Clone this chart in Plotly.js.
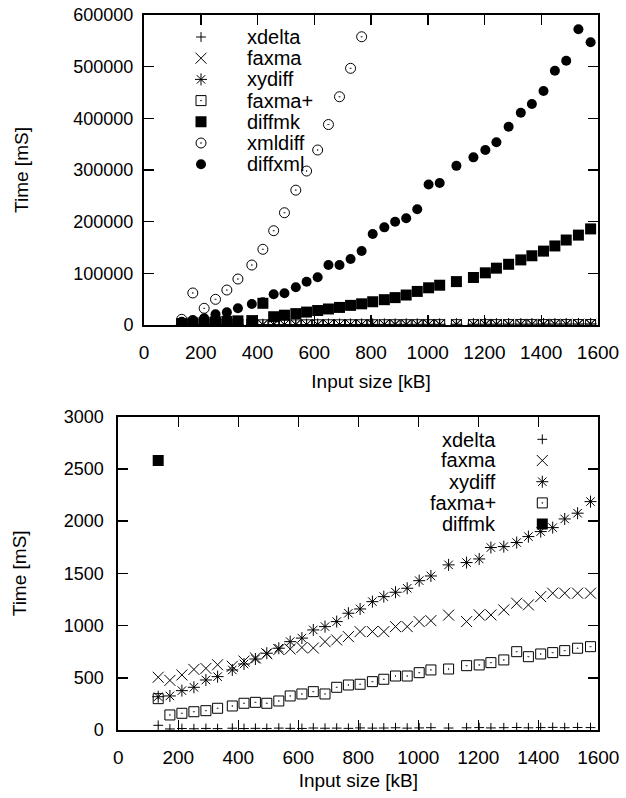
<!DOCTYPE html>
<html>
<head>
<meta charset="utf-8">
<script src="https://cdn.plot.ly/plotly-3.0.1.min.js"></script>
<style>
html, body { margin: 0; padding: 0; background: #fff; }
#chart { width: 626px; height: 798px; }
</style>
</head>
<body>
<div id="chart"></div>
<script>
// Input sizes [kB]
const inputSize = [133, 172, 212, 252, 292, 331, 380, 419, 457, 495, 535, 573, 612, 650, 689, 728, 767, 806,
  847, 885, 924, 963, 1003, 1042, 1101, 1161, 1203, 1242, 1285, 1328, 1367, 1408, 1448, 1488, 1531, 1574];
// xmldiff only measured up to ~770 kB
const inputSizeXmldiff = [133, 172, 212, 252, 292, 331, 380, 419, 457, 495, 535, 573, 612, 650, 689, 728, 767];

// Times [mS]
const xdelta = [45, 10, 14, 12, 15, 13, 17, 14, 16, 15, 18, 16, 15, 19, 17, 18, 16, 20,
  18, 19, 21, 18, 20, 22, 19, 21, 23, 20, 22, 24, 21, 23, 25, 22, 24, 23];
const faxma = [505, 475, 527, 580, 590, 625, 610, 660, 690, 730, 770, 775, 790, 785, 846, 862, 894, 942,
  942, 942, 990, 990, 1038, 1047, 1100, 1038, 1102, 1102, 1150, 1214, 1198, 1277, 1310, 1310, 1310, 1310];
const xydiff = [319, 326, 377, 409, 479, 511, 575, 632, 680, 735, 783, 846, 880, 958, 990, 1038, 1118, 1159,
  1229, 1277, 1319, 1357, 1430, 1475, 1581, 1603, 1638, 1747, 1756, 1795, 1852, 1900, 1938, 2021, 2076, 2187];
const faxmaPlus = [300, 144, 160, 175, 185, 208, 230, 256, 265, 256, 278, 326, 345, 367, 345, 409, 431, 438,
  463, 486, 517, 517, 549, 575, 584, 616, 623, 645, 671, 750, 702, 728, 741, 760, 783, 798];
const diffmk = [2580, 4000, 5000, 6000, 7000, 8000, 8500, 42000, 16000, 19000, 22000, 25000, 28000, 31000, 34000, 38000, 41000, 45000,
  49000, 53000, 58000, 65000, 72000, 77000, 84000, 92000, 101000, 110000, 117500, 126000, 134000, 143000, 153000, 164500, 174000, 186000];
const xmldiff = [11000, 62000, 32300, 49700, 67700, 89000, 116100, 146500, 182500, 217300, 261000, 298000, 338700, 388000, 441800, 496800, 557900];
const diffxml = [6400, 9700, 13000, 20700, 24500, 32300, 40600, 44000, 59400, 61300, 73000, 83800, 92300, 116100, 116100, 127700, 143200, 176000,
  189000, 200000, 206500, 224000, 272000, 275000, 308000, 324500, 338700, 353600, 383800, 410900, 427700, 452900, 492200, 511500, 572300, 547100];

const topNames = ['xdelta', 'faxma', 'xydiff', 'faxma+', 'diffmk', 'xmldiff', 'diffxml'];
const bottomNames = ['xdelta', 'faxma', 'xydiff', 'faxma+', 'diffmk'];
const xTicks = [0, 200, 400, 600, 800, 1000, 1200, 1400, 1600];

const W = 626, H = 798;
const FONT = 'Liberation Sans, Arial, Helvetica, sans-serif';
const K = '#000';

const styles = {
  'xdelta': {symbol: 'cross-thin-open', size: 7, line: {color: K, width: 1}},
  'faxma': {symbol: 'x-thin-open', size: 11, line: {color: K, width: 1}},
  'xydiff': {symbol: 'asterisk-open', size: 10, line: {color: K, width: 1}},
  'faxma+': {symbol: 'square-open-dot', size: 10, line: {color: K, width: 1}},
  'diffmk': {symbol: 'square', size: 11, line: {color: K, width: 0}},
  'xmldiff': {symbol: 'circle-open-dot', size: 10, line: {color: K, width: 1}},
  'diffxml': {symbol: 'circle', size: 10, line: {color: K, width: 0}}
};
const seriesY = {'xdelta': xdelta, 'faxma': faxma, 'xydiff': xydiff, 'faxma+': faxmaPlus,
  'diffmk': diffmk, 'xmldiff': xmldiff, 'diffxml': diffxml};
const seriesX = n => n === 'xmldiff' ? inputSizeXmldiff : inputSize;

function mk(n, xa, ya, leg) {
  const s = styles[n];
  return {
    type: 'scatter', mode: 'markers', name: '',
    x: seriesX(n), y: seriesY[n], xaxis: xa, yaxis: ya, legend: leg,
    marker: {symbol: s.symbol, size: s.size, color: K, line: s.line},
    hovertemplate: n + ': %{x} kB, %{y} mS<extra></extra>'
  };
}

const data = [];
topNames.forEach(n => data.push(mk(n, 'x', 'y', 'legend')));
bottomNames.forEach(n => data.push(mk(n, 'x2', 'y2', 'legend2')));

const px = v => v / W, py = v => 1 - v / H;
const titleFont = {family: FONT, size: 19, color: K, weight: 'normal'};

function xaxis(domain, anchor, standoff) {
  return {
    domain: domain, anchor: anchor, range: [0, 1600], tickvals: xTicks, ticktext: xTicks.map(String),
    showgrid: false, zeroline: false, showline: true, linewidth: 2, linecolor: K, mirror: 'allticks',
    ticks: 'inside', ticklen: 10, tickwidth: 1.5, tickcolor: K, automargin: false,
    tickfont: {family: FONT, size: 19, color: K}, ticklabelstandoff: 9,
    title: {text: 'Input size [kB]', font: titleFont, standoff: standoff}
  };
}
function yaxis(domain, anchor, range, dtick, labelGap, standoff) {
  return {
    domain: domain, anchor: anchor, range: range, dtick: dtick, tickformat: 'd',
    showgrid: false, zeroline: false, showline: true, linewidth: 2, linecolor: K, mirror: 'allticks',
    ticks: 'inside', ticklen: 10, tickwidth: 1.5, tickcolor: K, automargin: false,
    tickfont: {family: FONT, size: 18, color: K}, ticklabelstandoff: labelGap,
    title: {text: 'Time [mS]', font: titleFont, standoff: standoff}
  };
}

const annotations = [];
topNames.forEach((n, i) => annotations.push({
  xref: 'paper', yref: 'paper', x: px(245), y: py(37 + 21.2 * i), xanchor: 'left', yanchor: 'middle',
  text: n, showarrow: false, font: {family: FONT, size: 20, color: K}
}));
bottomNames.forEach((n, i) => annotations.push({
  xref: 'paper', yref: 'paper', x: px(498), y: py(439.5 + 21 * i), xanchor: 'right', yanchor: 'middle',
  text: n, showarrow: false, font: {family: FONT, size: 20, color: K}
}));

const layout = {
  width: W, height: H, margin: {l: 0, r: 0, t: 0, b: 0},
  paper_bgcolor: '#fff', plot_bgcolor: '#fff',
  font: {family: FONT, size: 19, color: K},
  showlegend: true,
  xaxis: xaxis([px(144), px(598)], 'y', 13),
  yaxis: yaxis([py(325), py(15)], 'x', [0, 600000], 100000, 5, 40),
  xaxis2: xaxis([px(118.3), px(598.3)], 'y2', 7),
  yaxis2: yaxis([py(730), py(416.7)], 'x2', [0, 3000], 500, 9, 32),
  legend: {x: px(181), y: py(21.4), xanchor: 'left', yanchor: 'top', bgcolor: 'rgba(0,0,0,0)',
    borderwidth: 0, font: {family: FONT, size: 14, color: K}, itemwidth: 30, tracegroupgap: 0},
  legend2: {x: px(522.3), y: py(423.7), xanchor: 'left', yanchor: 'top', bgcolor: 'rgba(0,0,0,0)',
    borderwidth: 0, font: {family: FONT, size: 14, color: K}, itemwidth: 30, tracegroupgap: 0},
  annotations: annotations
};

Plotly.newPlot('chart', data, layout, {displayModeBar: false, staticPlot: true});
</script>
</body>
</html>
